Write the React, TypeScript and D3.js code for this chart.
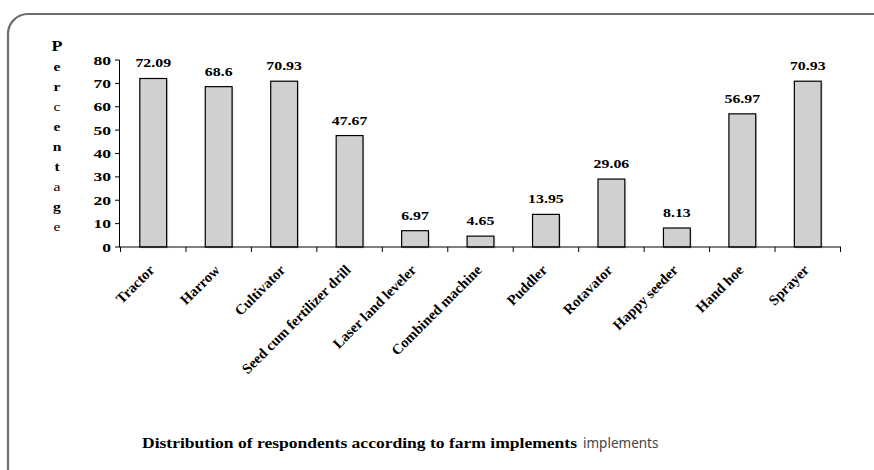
import React from "react";
import * as d3 from "d3";

const categories = [
  "Tractor",
  "Harrow",
  "Cultivator",
  "Seed cum fertilizer drill",
  "Laser land leveler",
  "Combined machine",
  "Puddler",
  "Rotavator",
  "Happy seeder",
  "Hand hoe",
  "Sprayer",
];
const values = [72.09, 68.6, 70.93, 47.67, 6.97, 4.65, 13.95, 29.06, 8.13, 56.97, 70.93];
const valueLabels = ["72.09", "68.6", "70.93", "47.67", "6.97", "4.65", "13.95", "29.06", "8.13", "56.97", "70.93"];
const yTicks = [0, 10, 20, 30, 40, 50, 60, 70, 80];
const yTitleLetters = ["P", "e", "r", "c", "e", "n", "t", "a", "g", "e"];
const captionBold = "Distribution of respondents according to farm implements";
const captionRegular = "implements";

const W = 874;
const H = 470;
const serif = "'Liberation Serif', 'Times New Roman', serif";

export default function App() {
  const x = d3.scaleBand<string>().domain(categories).range([120.5, 840.5]);
  const y = d3.scaleLinear().domain([0, 80]).range([247, 60]);
  const bw = x.bandwidth();
  const barW = bw * 0.41;
  const boundaries = d3.range(categories.length + 1).map((i) => 120.5 + i * bw);
  const letterWeights = ["bold", "bold", "bold", "normal", "bold", "bold", "bold", "normal", "bold", "normal"];

  return (
    <svg
      width={W}
      height={H}
      viewBox={`0 0 ${W} ${H}`}
      style={{ position: "absolute", left: 0, top: 0, background: "#fff" }}
    >
      <rect x={8} y={14} width={890} height={500} rx={20} ry={20} fill="none" stroke="#6e6e6e" strokeWidth={2.2} />

      {/* y-axis title */}
      {yTitleLetters.map((ch, i) => (
        <text
          key={i}
          transform={`translate(57,${51 + i * 20}) scale(1.2,1)`}
          textAnchor="middle"
          fontFamily={serif}
          fontWeight={letterWeights[i]}
          fontSize={i === 0 ? 15 : 13}
          fill="#000"
        >
          {ch}
        </text>
      ))}

      {/* bars */}
      {categories.map((c, i) => {
        const cx = (x(c) as number) + bw / 2;
        return (
          <g key={c}>
            <rect
              x={cx - barW / 2 + 1.5}
              y={y(values[i]) + 1.5}
              width={barW}
              height={y(0) - y(values[i])}
              fill="#000"
              opacity={0.12}
            />
            <rect
              x={cx - barW / 2}
              y={y(values[i])}
              width={barW}
              height={y(0) - y(values[i])}
              fill="#d0d0d0"
              stroke="#000"
              strokeWidth={1.2}
            />
            <text
              transform={`translate(${cx},${y(values[i]) - 11}) scale(1.22,1)`}
              textAnchor="middle"
              fontFamily={serif}
              fontWeight="bold"
              fontSize={13}
              fill="#000"
            >
              {valueLabels[i]}
            </text>
            <text
              transform={`translate(${cx + 2},${271}) rotate(-45)`}
              textAnchor="end"
              fontFamily={serif}
              fontWeight="bold"
              fontSize={14.5}
              fill="#000"
            >
              {c}
            </text>
          </g>
        );
      })}

      {/* y axis */}
      <line x1={119.5} x2={119.5} y1={y(80)} y2={y(0)} stroke="#000" strokeWidth={1} />
      {yTicks.map((t) => (
        <g key={t}>
          <line x1={115} x2={119.5} y1={y(t)} y2={y(t)} stroke="#000" strokeWidth={1} />
          <text
            transform={`translate(111,${y(t)}) scale(1.35,1)`}
            dy="0.35em"
            textAnchor="end"
            fontFamily={serif}
            fontWeight="bold"
            fontSize={13}
            fill="#000"
          >
            {t}
          </text>
        </g>
      ))}

      {/* x axis */}
      <line x1={119} x2={841} y1={y(0)} y2={y(0)} stroke="#000" strokeWidth={1} />
      {boundaries.map((b, i) => (
        <line key={i} x1={b} x2={b} y1={y(0)} y2={y(0) + 5} stroke="#000" strokeWidth={1} />
      ))}

      {/* caption */}
      <text
        x={142}
        y={448}
        fontFamily={serif}
        fontWeight="bold"
        fontSize={15}
        textLength={435}
        lengthAdjust="spacingAndGlyphs"
        fill="#000"
      >
        {captionBold}
      </text>
      <text x={583} y={448} fontFamily="'Noto Sans', sans-serif" fontSize={13.5} fill="#444">
        {captionRegular}
      </text>
    </svg>
  );
}
